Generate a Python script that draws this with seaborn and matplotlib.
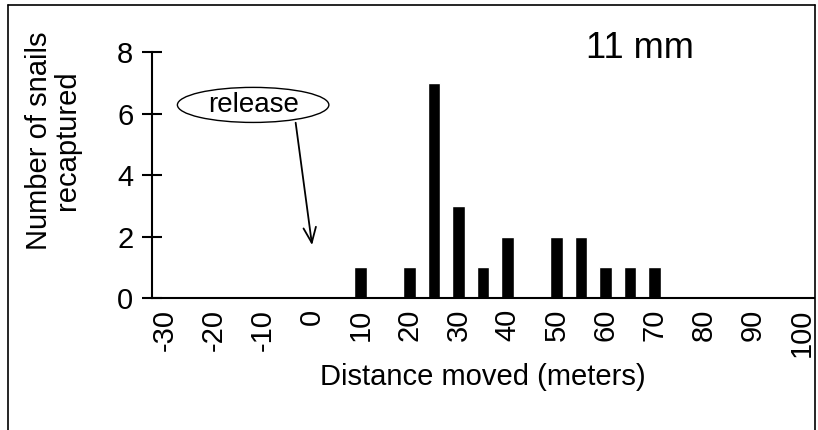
import numpy as np
import pandas as pd
import matplotlib.pyplot as plt
from matplotlib.lines import Line2D
from matplotlib.patches import Ellipse
import seaborn as sns

# distance bins (meters) and number of snails recaptured in each
distance = list(range(-30, 105, 5))
recaptured = [0, 0, 0, 0, 0, 0, 0, 0,   # -30 .. 5
              1, 0, 1, 7, 3, 1, 2, 0,   # 10 .. 45
              2, 2, 1, 1, 1, 0, 0, 0,   # 50 .. 85
              0, 0, 0]                  # 90 .. 100
tick_values = list(range(-30, 110, 10))
y_ticks = [0, 2, 4, 6, 8]

df = pd.DataFrame({"distance": distance, "count": recaptured})

sns.set_style("white")
plt.rcParams['font.family'] = ['Liberation Sans', 'DejaVu Sans']
plt.rcParams['text.color'] = 'black'
plt.rcParams['axes.labelcolor'] = 'black'
plt.rcParams['xtick.color'] = 'black'
plt.rcParams['ytick.color'] = 'black'

fig = plt.figure(figsize=(8.18, 4.30), dpi=100)
ax = fig.add_axes([0.186, 0.307, 0.809, 0.572])

sns.barplot(data=df, x="distance", y="count", native_scale=True,
            color="black", width=0.5, saturation=1, ax=ax)

ax.set_xlim(-32.5, 102.5)
ax.set_ylim(0, 8)
ax.set_xticks(tick_values)
ax.set_xticklabels([str(v) for v in tick_values], rotation=90, fontsize=21)
ax.set_yticks(y_ticks)
ax.set_yticklabels([str(v) for v in y_ticks], fontsize=21)
ax.tick_params(axis="x", length=0, pad=8)
ax.tick_params(axis="y", direction="inout", length=15, width=1.5, pad=6, left=True)

for s in ["top", "right"]:
    ax.spines[s].set_visible(False)
for s in ["left", "bottom"]:
    ax.spines[s].set_color("black")
    ax.spines[s].set_linewidth(1.5)

ax.set_xlabel("Distance moved (meters)", fontsize=21, labelpad=4)
ax.set_ylabel("Number of snails\nrecaptured", fontsize=21, linespacing=1.0)
ax.yaxis.set_label_coords(-0.107, 0.64)

# size label
ax.text(67, 8.13, "11 mm", fontsize=26, ha="center", va="center")

# release marker
ax.add_patch(Ellipse((-11.9, 6.28), 30.9, 1.14, facecolor="white",
                     edgecolor="black", lw=1, clip_on=False, zorder=3))
ax.text(-11.9, 6.28, "release", fontsize=20, ha="center", va="center", zorder=4)
ax.annotate("", xy=(0.2, 1.63), xytext=(-3.3, 5.79),
            arrowprops=dict(arrowstyle="->,head_length=1.1,head_width=0.45",
                            color="black", lw=1.3))

# frame around the figure
fig.add_artist(Line2D([0.010, 0.996], [0.988, 0.988], color="black", lw=1.2))
fig.add_artist(Line2D([0.010, 0.010], [0.0, 0.988], color="black", lw=1.2))
fig.add_artist(Line2D([0.996, 0.996], [0.0, 0.988], color="black", lw=1.2))

fig.savefig("out.png", dpi=100)
